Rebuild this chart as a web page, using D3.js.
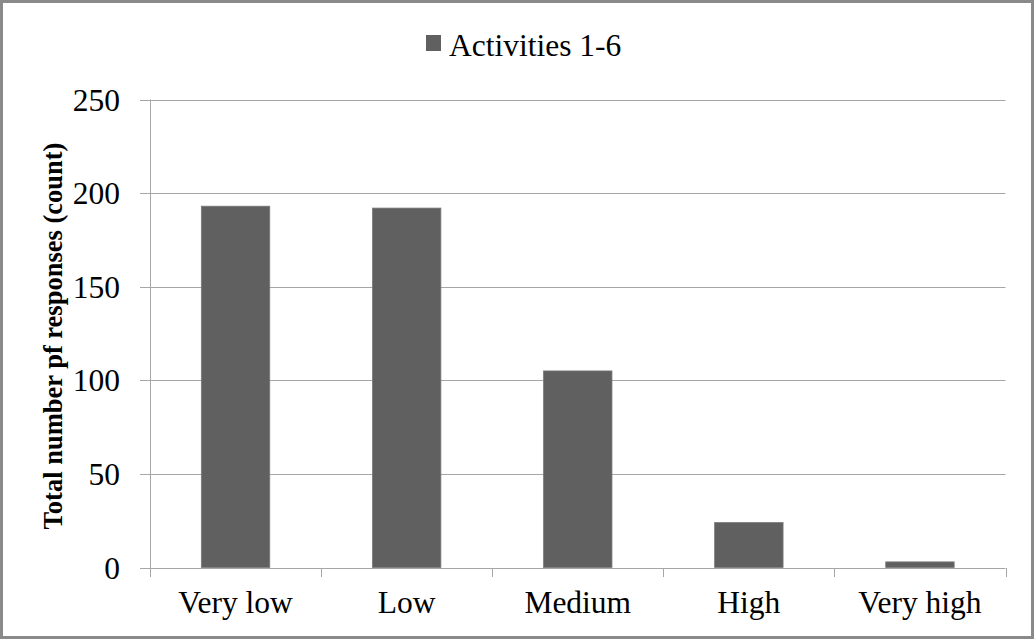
<!DOCTYPE html>
<html><head><meta charset="utf-8">
<script src="https://cdn.jsdelivr.net/npm/d3@7"></script>
<style>body{margin:0;background:#fff}svg{display:block}</style>
</head><body>
<script>
const categories = ["Very low","Low","Medium","High","Very high"];
const values = [193,192,105,24,3];
const seriesName = "Activities 1-6";
const yTicks = [0,50,100,150,200,250];

const W=1035,H=640;
const svg=d3.select("body").append("svg").attr("width",W).attr("height",H);
svg.append("rect").attr("x",1.5).attr("y",1.5).attr("width",W-4).attr("height",H-4)
  .attr("fill","#fff").attr("stroke","#8a8a8a").attr("stroke-width",3);

const x=d3.scaleBand().domain(categories).range([150,1005.5]).paddingInner(0.6).paddingOuter(0.3);
const xb=d3.scaleBand().domain(categories).range([150,1005.5]);
const y=d3.scaleLinear().domain([0,250]).range([567.5,99.5]);
const font="Liberation Serif";
const grid="#a6a6a6";

// gridlines
svg.append("g").selectAll("line").data(yTicks).join("line")
  .attr("x1",140).attr("x2",1005.5).attr("y1",d=>Math.round(y(d))+0.5).attr("y2",d=>Math.round(y(d))+0.5)
  .attr("stroke",grid).attr("stroke-width",1);
// y axis line
svg.append("line").attr("x1",150.5).attr("x2",150.5).attr("y1",y(250)).attr("y2",577).attr("stroke",grid);
// x ticks at band boundaries
const bounds=categories.map(c=>xb(c)).concat([xb(categories[4])+xb.bandwidth()]);
svg.append("g").selectAll("line").data(bounds).join("line")
  .attr("x1",d=>Math.round(d)+0.5).attr("x2",d=>Math.round(d)+0.5).attr("y1",568).attr("y2",577).attr("stroke",grid);

// y labels
svg.append("g").selectAll("text").data(yTicks).join("text")
  .attr("x",120).attr("y",d=>y(d)).attr("dy","0.35em").attr("text-anchor","end")
  .attr("font-family",font).attr("font-size",31.5).attr("fill","#000").text(d=>d);

// bars
svg.append("g").selectAll("rect").data(values).join("rect")
  .attr("x",(d,i)=>x(categories[i])).attr("width",x.bandwidth())
  .attr("y",d=>y(d)).attr("height",d=>y(0)-y(d))
  .attr("fill","#606060").attr("stroke","#7a7a7a").attr("stroke-width",0.8);

// x labels
svg.append("g").selectAll("text").data(categories).join("text")
  .attr("x",d=>xb(d)+xb.bandwidth()/2).attr("y",613).attr("text-anchor","middle")
  .attr("font-family",font).attr("font-size",31.5).attr("fill","#000").text(d=>d);

// y title
svg.append("text").attr("transform","translate(62,336) rotate(-90)").attr("text-anchor","middle")
  .attr("font-family",font).attr("font-weight","bold").attr("font-size",26.5).text("Total number pf responses (count)");

// legend
svg.append("rect").attr("x",426).attr("y",35).attr("width",15).attr("height",16).attr("fill","#606060");
svg.append("text").attr("x",449).attr("y",56).attr("font-family",font).attr("font-size",31.5).text(seriesName);
</script>
</body></html>
